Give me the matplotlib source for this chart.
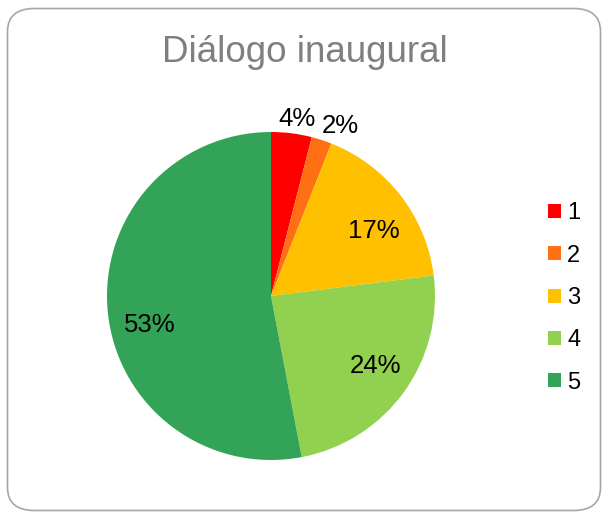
import matplotlib
matplotlib.use("Agg")
import matplotlib.pyplot as plt
from matplotlib.patches import FancyBboxPatch
import numpy as np

plt.rcParams['font.family'] = ['Liberation Sans', 'DejaVu Sans']

title = "Diálogo inaugural"
categories = ["1", "2", "3", "4", "5"]
values = [4, 2, 17, 24, 53]
labels = ["4%", "2%", "17%", "24%", "53%"]
colors = ["#FF0000", "#FF7015", "#FFC000", "#92D050", "#33A457"]

W, H = 602, 512
fig = plt.figure(figsize=(W / 100, H / 100), dpi=100)
fig.patch.set_facecolor("white")

# rounded border
border = FancyBboxPatch((7.5 / W, 1.5 / H), (593 / W), (502 / H),
                        boxstyle="round,pad=0,rounding_size=0.045",
                        transform=fig.transFigure, facecolor="none",
                        edgecolor="#a6a6a6", linewidth=1.2, zorder=-1)
fig.patches.append(border)

cx, cy, r = 271, 296, 164
ax = fig.add_axes([(cx - r) / W, (H - cy - r) / H, 2 * r / W, 2 * r / H])
wedges, _ = ax.pie(values, colors=colors, startangle=90, counterclock=False,
                   radius=1.0, wedgeprops=dict(linewidth=0))
ax.set_xlim(-1, 1)
ax.set_ylim(-1, 1)
ax.set_aspect("equal")
ax.axis("off")

# small nudges of inside labels (best-fit placement of the original)
inside_nudge = {2: (0.045, -0.06), 3: (0.04, 0.01), 4: (0.0, -0.11)}

n_out = 0
for i, (w, lab, v) in enumerate(zip(wedges, labels, values)):
    ang = np.deg2rad((w.theta1 + w.theta2) / 2)
    if v < 5:
        d = 1.11
        x, y = d * np.cos(ang), d * np.sin(ang)
        x += 0.06 * n_out + 0.02
        y -= 0.02
        n_out += 1
    else:
        d = 0.74
        x, y = d * np.cos(ang), d * np.sin(ang)
        dx, dy = inside_nudge.get(i, (0, 0))
        x += dx
        y += dy
    ax.text(x, y, lab, ha="center", va="center", fontsize=18.5, color="#000000")

fig.text(305 / W, 1 - 52 / H, title, ha="center", va="center",
         fontsize=26.5, color="#7f7f7f")

leg = fig.legend(wedges, categories, loc="center left",
                 bbox_to_anchor=(539 / W, 1 - 298 / H), frameon=False,
                 fontsize=17, handlelength=0.55, handleheight=0.55,
                 handletextpad=0.25, labelspacing=0.86, borderaxespad=0)

fig.savefig("out.png", dpi=100)
